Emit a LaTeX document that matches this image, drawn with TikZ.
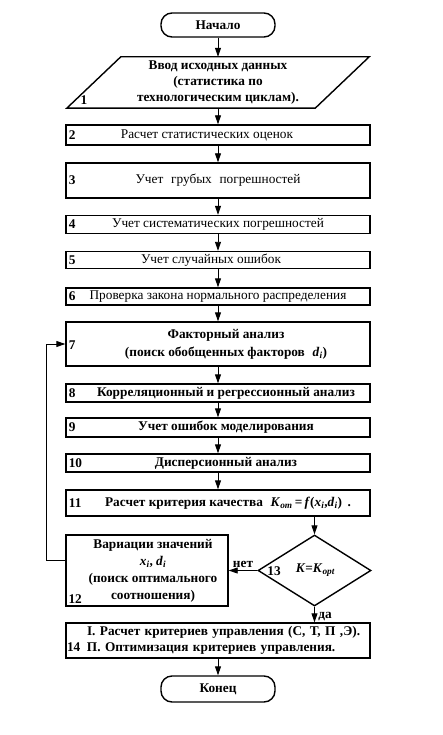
\documentclass[tikz,border=0pt]{standalone}
\usepackage{fontspec}
\setmainfont{Liberation Serif}
\usetikzlibrary{shapes.geometric}
\usetikzlibrary{arrows.meta}
\usetikzlibrary{positioning}
\tikzset{
txt/.style={font=\fontsize{13.3}{16}\selectfont},
btxt/.style={font=\fontsize{13.3}{16}\selectfont\bfseries},
boxline/.style={line width=1.4pt},
stepbox/.style 2 args={draw,boxline,rectangle,minimum width=304,minimum height=#1,inner sep=0pt,
	label={[anchor=west,btxt]west:#2}},
termbox/.style={draw,boxline,rounded corners=11pt,minimum width=114,minimum height=#1,btxt},
iobox/.style={rectangle,minimum width=248,minimum height=51,inner sep=0pt,btxt,align=center},
decbox/.style={draw,boxline,diamond,minimum width=113,minimum height=71,inner sep=0pt},
flow/.style={-{Triangle[length=9pt,width=6pt]},line width=0.9pt},
}
\newcommand{\sub}[1]{\textsubscript{\textit{#1}}}
\begin{document}
\begin{tikzpicture}[x=1pt,y=-1pt,txt]
\useasboundingbox (0,0) rectangle (443,735);
%Place the nodes
\node[termbox=24] (start) at (218,25) {Начало};
\node[iobox] (n1) at (218,82.5) {Ввод исходных данных\\(статистика по\\технологическим циклам).};
\draw[boxline] ([xshift=27]n1.north west) -- ([xshift=27]n1.north east)
	-- ([xshift=-27]n1.south east) -- ([xshift=-27]n1.south west) -- cycle;
\node[btxt] (num1) at (84,100) {1};
\node[stepbox={20}{2}] (n2) at (218,135) {\hspace{-22pt}Расчет статистических оценок};
\node[stepbox={35}{\raisebox{-8pt}{3}}] (n3) at (218,180.5) {\raisebox{-2pt}{Учет\,\, грубых\,\, погрешностей}};
\node[stepbox={18}{\raisebox{-3pt}{4}}] (n4) at (218,224.5) {Учет систематических погрешностей};
\node[stepbox={17}{\raisebox{-3pt}{5}}] (n5) at (218,260) {\hspace{-14pt}\raisebox{-1pt}{Учет случайных ошибок}};
\node[stepbox={17}{6}] (n6) at (218,296.5) {Проверка закона нормального распределения};
\node[stepbox={44}{\raisebox{-10pt}{7}},btxt,align=center,font=\fontsize{13.3}{18}\selectfont\bfseries] (n7) at (218,344)
	{\hspace{16pt}Факторный анализ\\\hspace{16pt}(поиск обобщенных факторов\,\, \textit{d}\sub{i})};
\node[stepbox={18}{8},btxt] (n8) at (218,393) {\hspace{16pt}Корреляционный и регрессионный анализ};
\node[stepbox={19}{9},btxt] (n9) at (218,427.5) {\hspace{16pt}Учет ошибок моделирования};
\node[stepbox={18}{10},btxt] (n10) at (218,463) {\hspace{16pt}Дисперсионный анализ};
\node[stepbox={26}{\raisebox{-3pt}{11}},btxt] (n11) at (218,503)
	{\hspace{20pt}Расчет критерия качества\,\, \textit{K}\sub{от}\,=\,\textit{f}(\textit{x}\sub{i},\textit{d}\sub{i})\, .};
\node[draw,boxline,minimum width=162,minimum height=71,inner sep=0pt,align=center,
	font=\fontsize{13.3}{17}\selectfont\bfseries,
	label={[anchor=south west,btxt,inner sep=3pt]south west:12}] (n12) at (147,570.5)
	{\hspace{12pt}Вариации значений\\\hspace{12pt}\textit{x}\sub{i}, \textit{d}\sub{i}\\\hspace{12pt}(поиск оптимального\\\hspace{12pt}соотношения)};
\node[decbox,btxt] (n13) at (314.5,570.5) {\hspace{2pt}\textit{K}=\textit{K}\sub{opt}};
\node[btxt] (num13) at (274,571) {13};
\node[stepbox={35}{},btxt,align=left,text width=302,inner xsep=1pt] (n14) at (218,640.5)
	{\hspace{20pt}I. Расчет критериев управления (С, Т, П ,Э).\\\makebox[20pt][l]{14}П. Оптимизация критериев управления.};
\node[termbox=26] (stop) at (218,689) {Конец};
\coordinate (loopa) at (46,560);
\coordinate (loopb) at (46,344);

%
\draw[flow] (start) -- (n1);
\draw[flow] (n1) -- (n2);
\draw[flow] (n2) -- (n3);
\draw[flow] (n3) -- (n4);
\draw[flow] (n4) -- (n5);
\draw[flow] (n5) -- (n6);
\draw[flow] (n6) -- (n7);
\draw[flow] (n7) -- (n8);
\draw[flow] (n8) -- (n9);
\draw[flow] (n9) -- (n10);
\draw[flow] (n10) -- (n11);

%
\draw[flow] (n11.south -| n13.north) -- (n13.north);
\draw[flow] (n13.west) -- node[above,btxt,yshift=-1pt] {нет} (n12.east);
\draw[flow] (n13.south) -- node[right,btxt,yshift=-2pt] {да} (n13.south |- n14.north);
\draw[flow] (n14) -- (stop);

%
\draw[flow] (n12.west |- loopa) -- (loopa) -- (loopb) -- (n7.west);
\end{tikzpicture}
\end{document}
